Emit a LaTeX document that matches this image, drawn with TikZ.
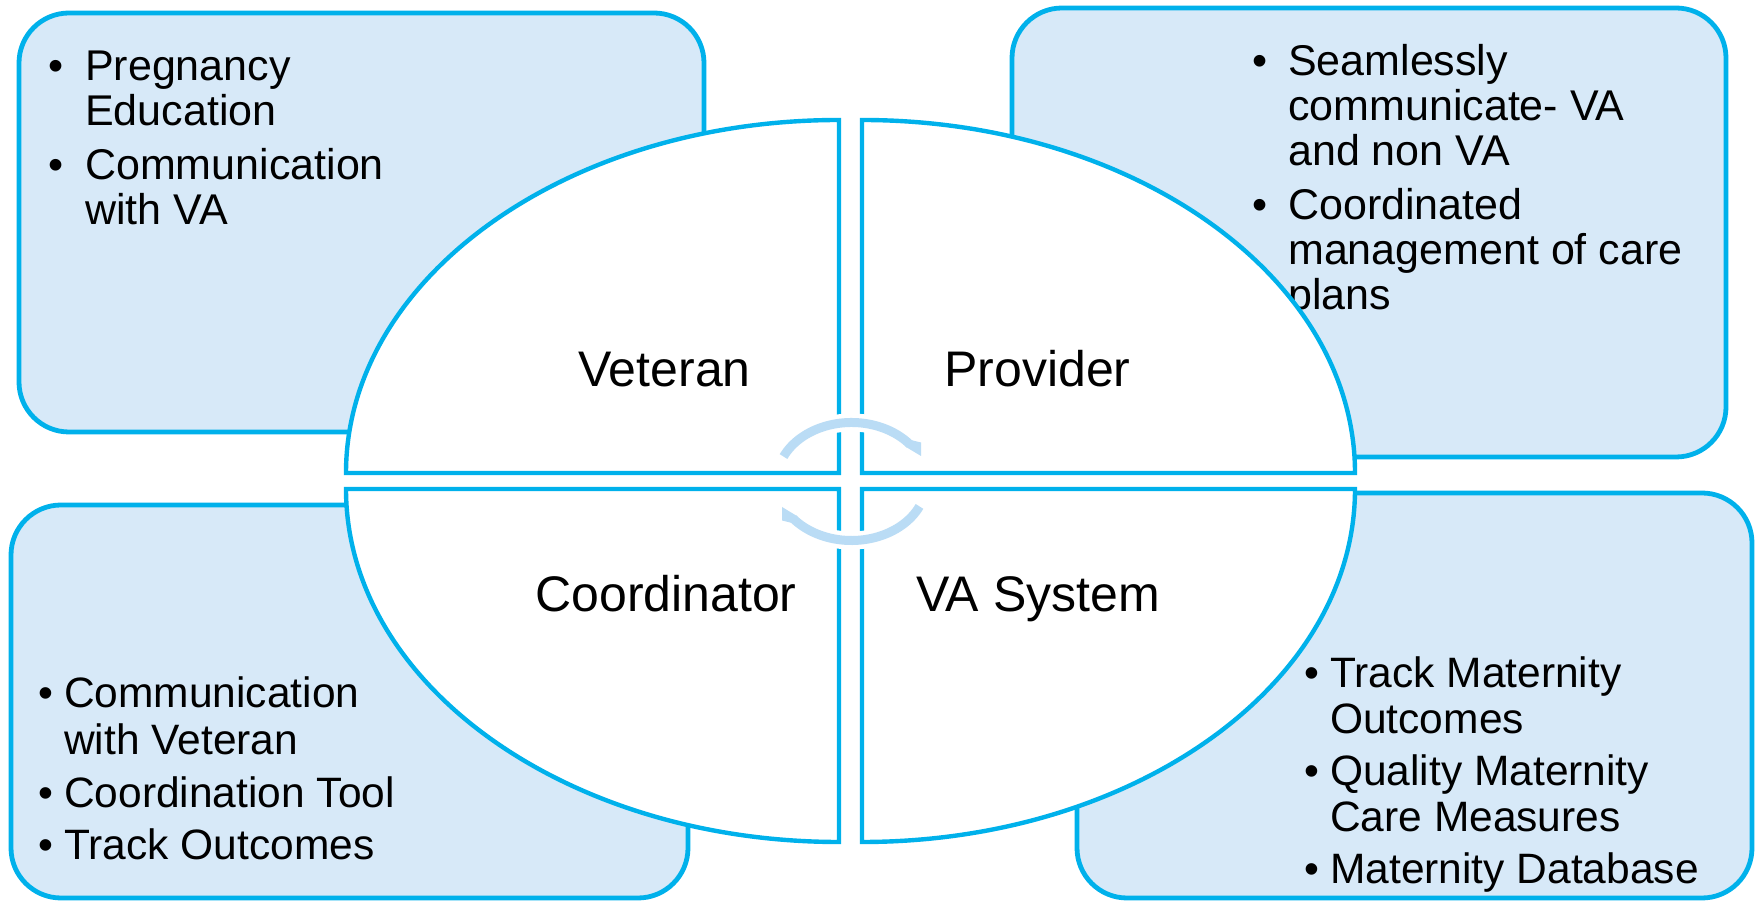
\documentclass[tikz,border=0pt]{standalone}
\usepackage{fontspec}
\setmainfont{Liberation Sans}
\definecolor{cyanline}{HTML}{00B1EB}
\definecolor{boxfill}{HTML}{D7E9F8}
\definecolor{arcblue}{HTML}{BADCF5}
\newcommand\bul[1]{\makebox[#1][l]{•}}
\begin{document}
\begin{tikzpicture}[x=1pt,y=1pt,
  infobox/.style={draw=cyanline, line width=4.8pt, fill=boxfill, rounded corners=50pt},
  quad/.style={draw=cyanline, line width=4.4pt, fill=white},
  lbl/.style={anchor=base, font=\fontsize{50}{56}\selectfont, inner sep=0pt},
  bullets/.style={anchor=base west, inner sep=0pt},
  cyc/.style={draw=arcblue, line width=9pt},
  cychead/.style={fill=arcblue},
  halo/.style={draw=white, line width=18pt}]
\useasboundingbox (0,0) rectangle (1756,902);
% info boxes
\draw[infobox] (19,470) rectangle (704,889);
\draw[infobox] (1012,445) rectangle (1726,894);
\draw[infobox] (11,4) rectangle (688,397);
\draw[infobox] (1077,4) rectangle (1752,409);
% box texts
\node[bullets, font=\fontsize{43}{45}\selectfont] (tltext) at (48.5,821)
  {\begin{tabular}[t]{@{}l@{}l@{}}\bul{36.5pt} & Pregnancy\\ & Education\\[9pt]
   \bul{36.5pt} & Communication\\ & with VA\end{tabular}};
\node[bullets, font=\fontsize{43}{45}\selectfont] (trtext) at (1252.5,826)
  {\begin{tabular}[t]{@{}l@{}l@{}}\bul{35.5pt} & Seamlessly\\ & communicate- VA\\ & and non VA\\[9pt]
   \bul{35.5pt} & Coordinated\\ & management of care\\ & plans\end{tabular}};
\node[bullets, font=\fontsize{42.5}{47}\selectfont] (bltext) at (38.5,194)
  {\begin{tabular}[t]{@{}l@{}l@{}}\bul{25.5pt} & Communication\\ & with Veteran\\[5.5pt]
   \bul{25.5pt} & Coordination Tool\\[5.5pt]
   \bul{25.5pt} & Track Outcomes\end{tabular}};
\node[bullets, font=\fontsize{42.5}{46}\selectfont] (brtext) at (1304.5,214)
  {\begin{tabular}[t]{@{}l@{}l@{}}\bul{25.5pt} & Track Maternity\\ & Outcomes\\[6pt]
   \bul{25.5pt} & Quality Maternity\\ & Care Measures\\[6pt]
   \bul{25.5pt} & Maternity Database\end{tabular}};
% quadrants
\draw[quad] (839,429) -- (346,429) arc[start angle=180, end angle=90, x radius=493, y radius=353] -- cycle;
\draw[quad] (862,429) -- (862,782) arc[start angle=90, end angle=0, x radius=493, y radius=353] -- cycle;
\draw[quad] (839,413) -- (346,413) arc[start angle=180, end angle=270, x radius=493, y radius=353] -- cycle;
\draw[quad] (862,413) -- (1355,413) arc[start angle=0, end angle=-90, x radius=493, y radius=353] -- cycle;
% labels
\node[lbl] (veteran) at (664.5,515) {Veteran};
\node[lbl] (provider) at (1037.5,515) {Provider};
\node[lbl] (coord) at (666,290) {Coordinator};
\node[lbl] (vasys) at (1038,290) {VA System};
% cycle arrows
\coordinate (cc) at (851.5,420.5);
\draw[halo] ([shift={(155:75 and 59)}]cc) arc[start angle=155, end angle=40, x radius=75, y radius=59];
\draw[halo] ([shift={(-25:75 and 59)}]cc) arc[start angle=-25, end angle=-140, x radius=75, y radius=59];
\draw[cyc] ([shift={(155:75 and 59)}]cc) arc[start angle=155, end angle=39, x radius=75, y radius=59];
\fill[cychead] (912.0,461.7) -- (921,459.5) -- (921,446) -- (905.9,455.1) -- cycle;
\draw[cyc] ([shift={(-25:75 and 59)}]cc) arc[start angle=-25, end angle=-141, x radius=75, y radius=59];
\fill[cychead] (791.0,379.3) -- (782,381.5) -- (782,395) -- (797.1,385.9) -- cycle;
\end{tikzpicture}
\end{document}
